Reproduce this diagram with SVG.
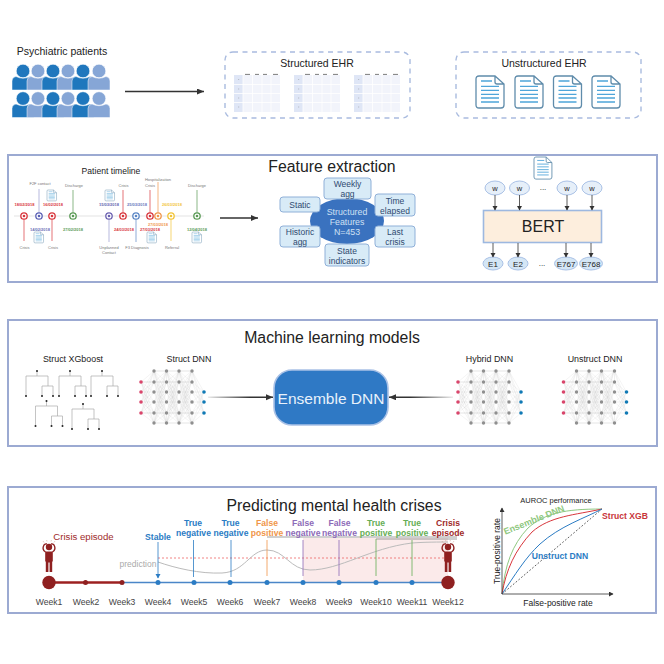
<svg xmlns="http://www.w3.org/2000/svg" width="664" height="664" viewBox="0 0 664 664">
<style>
text{font-family:"Liberation Sans",Arial,sans-serif;fill:#222;text-anchor:middle}
.panel{fill:#fff;stroke:#9caad2;stroke-width:2}
.dash{fill:#fff;stroke:#a9bbdf;stroke-width:1.4;stroke-dasharray:5 4.5}
.ln{fill:none;stroke:#333;stroke-width:1.5}
.thin{fill:none;stroke:#333;stroke-width:.8}
.t12{font-size:10.5px}.t9{font-size:8.5px;fill:#2f4a70}
.h{font-size:15.8px}
.lab{font-size:8.9px}
.d{font-size:4px;font-weight:bold}
.s{font-size:4px;fill:#777}
.wk{font-size:8.6px;fill:#444}
.o{font-size:8.6px;font-weight:bold}
.fb{fill:#d8ebf7;stroke:#8fb0d8;stroke-width:1}
.tr{fill:none;stroke:#aaa;stroke-width:.7}
.stem{stroke-width:.8;fill:none}
.m{fill:none;stroke:#aaa;stroke-width:.13}
</style>
<defs>
<marker id="ah" markerWidth="8" markerHeight="8" refX="7" refY="3" orient="auto" markerUnits="userSpaceOnUse"><path d="M0 0L7 3L0 6z" fill="#333"/></marker>
<marker id="ab" markerWidth="6" markerHeight="6" refX="4" refY="2.5" orient="auto" markerUnits="userSpaceOnUse"><path d="M0 0L4.5 2.5L0 5z" fill="#333"/></marker>
<marker id="abl" markerWidth="6" markerHeight="6" refX="4" refY="2.5" orient="auto" markerUnits="userSpaceOnUse"><path d="M0 0L4.5 2.5L0 5z" fill="#2b7cc4"/></marker>
<linearGradient id="gl" gradientUnits="userSpaceOnUse" x1="208" y1="0" x2="250" y2="0"><stop offset="0" stop-color="#333" stop-opacity=".1"/><stop offset="1" stop-color="#333"/></linearGradient>
<linearGradient id="gr" gradientUnits="userSpaceOnUse" x1="453" y1="0" x2="410" y2="0"><stop offset="0" stop-color="#333" stop-opacity=".1"/><stop offset="1" stop-color="#333"/></linearGradient>
<g id="person">
<circle cx="0" cy="-12" r="6.800" stroke="#fff" stroke-width=".6"/>
<path d="M-11 7V-2Q-11 -6 -7 -6.500Q0 -3 7 -6.500Q11 -6 11 -2V7z" stroke="#fff" stroke-width=".5"/>
</g>
<g id="rowp">
<use href="#person" x="23" fill="#1f77bd"/><use href="#person" x="38" fill="#86a6d6"/><use href="#person" x="53" fill="#1f77bd"/><use href="#person" x="68" fill="#86a6d6"/><use href="#person" x="83" fill="#1f77bd"/><use href="#person" x="99" fill="#86a6d6"/>
</g>
<g id="tbl">
<rect width="46" height="37" fill="#f2f4fb"/><rect width="9" height="37" fill="#dfe6f6"/>
<path d="M9 0V37M18.500 0V37M28 0V37M37 0V37M0 9.500H46M0 18.500H46M0 27.500H46" stroke="#fff" stroke-width=".8"/>
<path d="M11 -.6H16M21 -.6H25M29 -.6H33M39 -.6H44" stroke="#444" stroke-width=".7"/>
<path d="M4.500 4.500h.6M4.500 14h.6M4.500 23h.6M4.500 32h.6" stroke="#777" stroke-width=".7"/>
</g>
<g id="doc">
<path d="M3 0H19L28 8V29Q28 32 25 32H3Q0 32 0 29V3Q0 0 3 0zM19 0V6Q19 8 21 8H28" fill="#fff" stroke="#5f8cab" stroke-width="1.300"/>
<path d="M5 5H16M5 10.300H23M5 14.300H23M5 18.300H23M5 22H23M5 26H23" stroke="#4ea5d9" stroke-width="1.300" fill="none"/>
</g>
<g id="tree"><path class="tr" d="M0 0V5M-11 25V5H11V15M5 25V15H16V25"/><circle r="1" fill="#222"/><circle cx="-11" cy="25" r="1" fill="#222"/><circle cx="5" cy="25" r="1" fill="#222"/><circle cx="16" cy="25" r="1" fill="#222"/></g>
<path id="mesh" class="m" d="M0 0L12.500 0M0 0L12.500 11M0 0L12.500 21M0 0L12.500 31M0 0L12.500 42M0 0L12.500 52M0 11L12.500 0M0 11L12.500 11M0 11L12.500 21M0 11L12.500 31M0 11L12.500 42M0 11L12.500 52M0 21L12.500 0M0 21L12.500 11M0 21L12.500 21M0 21L12.500 31M0 21L12.500 42M0 21L12.500 52M0 31L12.500 0M0 31L12.500 11M0 31L12.500 21M0 31L12.500 31M0 31L12.500 42M0 31L12.500 52M0 42L12.500 0M0 42L12.500 11M0 42L12.500 21M0 42L12.500 31M0 42L12.500 42M0 42L12.500 52M0 52L12.500 0M0 52L12.500 11M0 52L12.500 21M0 52L12.500 31M0 52L12.500 42M0 52L12.500 52"/>
<g id="gcol" fill="#8f8f8f"><circle r="1.700"/><circle cy="11" r="1.700"/><circle cy="21" r="1.700"/><circle cy="31" r="1.700"/><circle cy="42" r="1.700"/><circle cy="52" r="1.700"/></g>
<g id="dnn">
<path class="m" d="M0 11L13 0M0 11L13 11M0 11L13 21M0 11L13 31M0 11L13 42M0 11L13 52M0 21L13 0M0 21L13 11M0 21L13 21M0 21L13 31M0 21L13 42M0 21L13 52M0 31L13 0M0 31L13 11M0 31L13 21M0 31L13 31M0 31L13 42M0 31L13 52M0 42L13 0M0 42L13 11M0 42L13 21M0 42L13 31M0 42L13 42M0 42L13 52"/>
<use href="#mesh" x="13"/><use href="#mesh" x="25.500"/><use href="#mesh" x="38"/>
<path class="m" d="M51 0L63 21M51 0L63 31M51 0L63 42M51 11L63 21M51 11L63 31M51 11L63 42M51 21L63 21M51 21L63 31M51 21L63 42M51 31L63 21M51 31L63 31M51 31L63 42M51 42L63 21M51 42L63 31M51 42L63 42M51 52L63 21M51 52L63 31M51 52L63 42"/>
<path d="M0 11H13M0 42H13M13 0H51M13 11H51M13 42H51M13 52H51M13 0V11M25.500 0V11M38 0V11M51 0V11M13 42V52M25.500 42V52M38 42V52M51 42V52" stroke="#d2d2d2" stroke-width=".35" fill="none"/>
<use href="#gcol" x="13"/><use href="#gcol" x="25.500"/><use href="#gcol" x="38"/><use href="#gcol" x="51"/>
<g fill="#d9456b"><circle cy="11" r="1.800"/><circle cy="21" r="1.800"/><circle cy="31" r="1.800"/><circle cy="42" r="1.800"/></g>
<g fill="#0f79b5"><circle cx="63" cy="21" r="1.800"/><circle cx="63" cy="31" r="1.800"/><circle cx="63" cy="42" r="1.800"/></g>
</g>
<g id="crisisman" fill="#8f2020">
<circle cy="-10.500" r="3.200"/>
<path d="M-3.500 -5.500Q-7.500 -8 -5 -12.500Q-3.500 -14 -2 -13.500M3.500 -5.500Q7.500 -8 5 -12.500Q3.500 -14 2 -13.500" fill="none" stroke="#8f2020" stroke-width="1.400"/>
<path d="M-3.800 -6H3.800V4H3.200V14.500H.6V5H-.6V14.500H-3.200V4H-3.800z"/>
<path d="M-5 -15l-1 -1.500M-2 -16l-.4 -1.500M2 -16l.4 -1.500M5 -15l1 -1.500" stroke="#c98" stroke-width=".5" fill="none"/>
</g>
</defs>
<rect width="664" height="664" fill="#fff"/>

<g id="patients">
<text class="t12" x="62" y="55">Psychiatric patients</text>
<use href="#rowp" y="83"/><use href="#rowp" y="110.500"/>
</g>
<g id="structured-ehr">
<rect class="dash" x="225" y="52" width="185" height="66" rx="8"/>
<text class="t12" x="317" y="67">Structured EHR</text>
<use href="#tbl" x="234" y="75"/><use href="#tbl" x="294" y="75"/><use href="#tbl" x="354" y="75"/>
</g>
<g id="unstructured-ehr">
<rect class="dash" x="456" y="52" width="185" height="66" rx="8"/>
<text class="t12" x="544" y="67">Unstructured EHR</text>
<use href="#doc" x="476" y="76"/><use href="#doc" x="515" y="76"/><use href="#doc" x="553.500" y="76"/><use href="#doc" x="592" y="76"/>
</g>

<g id="panel-features">
<rect class="panel" x="8" y="155" width="649" height="127"/>
<text class="h" x="332" y="171.500">Feature extraction</text>
</g>
<g id="patient-timeline">
<text x="111" y="174" font-size="8.600">Patient timeline</text>
<path d="M14 216H204" stroke="#e4e4e4" stroke-width="1.200"/>
<g fill="none" stroke-width=".7">
<path d="M24 216V241M52 216V241M123 216V190M150 216V190" stroke="#d8363c"/>
<path d="M39 216V189M109 216V242" stroke="#9a9cd0"/>
<path d="M73 216V190M197 216V190" stroke="#5a9a55"/>
<path d="M136 216V242" stroke="#5b86c5"/>
<path d="M158 216V182" stroke="#f0964a"/>
<path d="M171 216V241" stroke="#f2c437"/>
</g>
<g stroke-width="1.300" fill="#fff">
<circle cx="24" cy="216" r="3.200" stroke="#d8363c"/><circle cx="52" cy="216" r="3.200" stroke="#d8363c"/><circle cx="123" cy="216" r="3.200" stroke="#d8363c"/><circle cx="150" cy="216" r="3.200" stroke="#d8363c"/>
<circle cx="39" cy="216" r="3.200" stroke="#5a60b5"/><circle cx="109" cy="216" r="3.200" stroke="#6a60b0"/>
<circle cx="73" cy="216" r="3.200" stroke="#5a9a55"/><circle cx="197" cy="216" r="3.200" stroke="#5a9a55"/>
<circle cx="136" cy="216" r="3.200" stroke="#5b86c5"/><circle cx="158" cy="216" r="3.200" stroke="#f0964a"/><circle cx="171" cy="216" r="3.200" stroke="#f2c437"/>
</g>
<circle cx="24" cy="216" r="1.300" fill="#d8363c"/><circle cx="52" cy="216" r="1.300" fill="#d8363c"/><circle cx="123" cy="216" r="1.300" fill="#d8363c"/><circle cx="150" cy="216" r="1.300" fill="#d8363c"/>
<circle cx="39" cy="216" r="1.300" fill="#5a60b5"/><circle cx="109" cy="216" r="1.300" fill="#6a60b0"/>
<circle cx="73" cy="216" r="1.300" fill="#5a9a55"/><circle cx="197" cy="216" r="1.300" fill="#5a9a55"/>
<circle cx="136" cy="216" r="1.300" fill="#5b86c5"/><circle cx="158" cy="216" r="1.300" fill="#f0964a"/><circle cx="171" cy="216" r="1.300" fill="#f2c437"/>
<g transform="translate(47 190) scale(.34)"><use href="#doc"/></g>
<g transform="translate(34 232) scale(.34)"><use href="#doc"/></g>
<g transform="translate(105 190) scale(.34)"><use href="#doc"/></g>
<g transform="translate(147 232) scale(.34)"><use href="#doc"/></g>
<g transform="translate(192 232) scale(.34)"><use href="#doc"/></g>
<text class="s" x="40" y="184.500">F2F contact</text>
<text class="s" x="74" y="186.500">Discharge</text>
<text class="s" x="123.500" y="186.500">Crisis</text>
<text class="s" x="150" y="186.500">Crisis</text>
<text class="s" x="158" y="181">Hospitalization</text>
<text class="s" x="197" y="186.500">Discharge</text>
<text class="s" x="24.500" y="248.500">Crisis</text>
<text class="s" x="53" y="248.500">Crisis</text>
<text class="s" x="109" y="248.500">Unplanned</text>
<text class="s" x="109" y="253.500">Contact</text>
<text class="s" x="137" y="248.500">F3 Diagnosis</text>
<text class="s" x="172" y="248.500">Referral</text>
<text class="d" x="24.500" y="206" style="fill:#d8363c">18/02/2018</text>
<text class="d" x="53" y="206" style="fill:#d8363c">16/02/2018</text>
<text class="d" x="40" y="230.500" style="fill:#6a6eb8">14/02/2018</text>
<text class="d" x="73" y="231" style="fill:#5a9a55">27/02/2018</text>
<text class="d" x="109" y="206" style="fill:#5f63b0">15/03/2018</text>
<text class="d" x="124" y="230.500" style="fill:#d8363c">24/03/2018</text>
<text class="d" x="137" y="206" style="fill:#6a78bd">25/03/2018</text>
<text class="d" x="150" y="230.500" style="fill:#d8363c">27/03/2018</text>
<text class="d" x="158" y="225.500" style="fill:#f0964a">27/03/2018</text>
<text class="d" x="172" y="206" style="fill:#f2c437">26/03/2018</text>
<text class="d" x="197" y="231" style="fill:#5a9a55">12/04/2018</text>
</g>
<g id="structured-features">
<ellipse cx="347" cy="221" rx="37" ry="23" fill="#3a72bf"/>
<g id="feat-weekly"><rect class="fb" x="324" y="178" width="47" height="21" rx="3"/><text class="t9" x="347.500" y="187">Weekly</text><text class="t9" x="347.500" y="197">agg</text></g>
<g id="feat-static"><rect class="fb" x="280" y="197" width="40" height="15" rx="3"/><text class="t9" x="300" y="208">Static</text></g>
<g id="feat-time"><rect class="fb" x="375" y="194" width="40" height="22" rx="3"/><text class="t9" x="395" y="204">Time</text><text class="t9" x="395" y="214">elapsed</text></g>
<g id="feat-historic"><rect class="fb" x="280" y="226" width="40" height="21" rx="3"/><text class="t9" x="300" y="235">Historic</text><text class="t9" x="300" y="245">agg</text></g>
<g id="feat-last"><rect class="fb" x="375" y="226" width="40" height="21" rx="3"/><text class="t9" x="395" y="235">Last</text><text class="t9" x="395" y="245">crisis</text></g>
<g id="feat-state"><rect class="fb" x="325" y="244" width="44" height="22" rx="3"/><text class="t9" x="347" y="254">State</text><text class="t9" x="347" y="264">indicators</text></g>
<text x="347" y="215" font-size="8.800" style="fill:#cfe0f3">Structured</text><text x="347" y="225" font-size="8.800" style="fill:#cfe0f3">Features</text><text x="347" y="235" font-size="8.800" style="fill:#cfe0f3">N=453</text>
</g>
<g id="bert-block">
<g transform="translate(534 157) scale(.64 .69)"><use href="#doc"/></g>
<g id="w1"><ellipse cx="495" cy="188" rx="10" ry="7" fill="#e6eff9" stroke="#a9c1e6"/><text x="495" y="191" font-size="7.500">w</text></g>
<g id="w2"><ellipse cx="519.500" cy="188" rx="10" ry="7" fill="#e6eff9" stroke="#a9c1e6"/><text x="519.500" y="191" font-size="7.500">w</text></g>
<g id="w3"><ellipse cx="567" cy="188" rx="10" ry="7" fill="#e6eff9" stroke="#a9c1e6"/><text x="567" y="191" font-size="7.500">w</text></g>
<g id="w4"><ellipse cx="592" cy="188" rx="10" ry="7" fill="#e6eff9" stroke="#a9c1e6"/><text x="592" y="191" font-size="7.500">w</text></g>
<text x="543" y="190" font-size="8">...</text>
<g id="bert"><rect x="483.500" y="210.500" width="118" height="32" fill="#fdeedd" stroke="#9db8e0" stroke-width="1.600"/><text x="543" y="232" font-size="16">BERT</text></g>
<g id="e1"><ellipse cx="493" cy="263.500" rx="10" ry="6.500" fill="#d4e6f5" stroke="#a9c1e6"/><text x="493" y="266.500" font-size="8">E1</text></g>
<g id="e2"><ellipse cx="518" cy="263.500" rx="10" ry="6.500" fill="#d4e6f5" stroke="#a9c1e6"/><text x="518" y="266.500" font-size="8">E2</text></g>
<g id="e767"><ellipse cx="566" cy="263.500" rx="11.500" ry="6.500" fill="#d4e6f5" stroke="#a9c1e6"/><text x="566" y="266.500" font-size="8">E767</text></g>
<g id="e768"><ellipse cx="591" cy="263.500" rx="11.500" ry="6.500" fill="#d4e6f5" stroke="#a9c1e6"/><text x="591" y="266.500" font-size="8">E768</text></g>
<text x="542" y="265.500" font-size="8">...</text>
</g>

<g id="panel-models">
<rect class="panel" x="8" y="320" width="649" height="126"/>
<text class="h" x="332" y="342.500">Machine learning models</text>
</g>
<g id="xgboost">
<text class="lab" x="73" y="362">Struct XGboost</text>
<use href="#tree" x="37" y="371"/><use href="#tree" x="70" y="371"/><use href="#tree" x="102" y="371"/><use href="#tree" x="46.500" y="401"/><use href="#tree" x="83" y="404"/>
</g>
<g id="struct-dnn"><text class="lab" x="189" y="362">Struct DNN</text><use href="#dnn" x="141" y="371"/></g>
<g id="hybrid-dnn"><text class="lab" x="489.500" y="362">Hybrid DNN</text><use href="#dnn" x="458" y="371"/></g>
<g id="unstruct-dnn"><text class="lab" x="595" y="362">Unstruct DNN</text><use href="#dnn" x="563.500" y="371"/></g>
<g id="ensemble"><rect x="274" y="370" width="114" height="55" rx="18" fill="#2f79c5" stroke="#a9c1e6" stroke-width="1.600"/><text x="331" y="403.500" font-size="15.500" style="fill:#e8f1fb">Ensemble DNN</text></g>

<g id="panel-predict">
<rect class="panel" x="8" y="487" width="648" height="126"/>
<text class="h" x="334" y="510.500">Predicting mental health crises</text>
</g>
<g id="prediction-chart">
<rect x="303" y="538" width="145" height="44" fill="#fbeaea"/>
<path d="M267 537H457M376 539H457" stroke="#888" stroke-width=".8" fill="none"/>
<path d="M158 558H448" stroke="#e66" stroke-width=".8" stroke-dasharray="2 2" fill="none"/>
<path d="M158 562C175 568 200 574 222 573C245 572 250 550 267 550C285 550 290 570 310 570C340 570 370 548 412 543C425 542 440 542 448 542" fill="none" stroke="#bbb" stroke-width="1"/>
<text x="138" y="567" font-size="8.500" style="fill:#aaa">prediction</text>
<path class="stem" stroke="#2b7cc4" d="M193.500 540V577M231 540V577"/>
<path class="stem" stroke="#f0964a" d="M267 540V576"/>
<path class="stem" stroke="#8d6bb8" d="M303 540V576M339 540V576"/>
<path class="stem" stroke="#66ae56" d="M376 539V576M412 540V576"/>
<text class="o" x="158" y="540" style="fill:#2b7cc4">Stable</text>
<text class="o" x="193" y="526" style="fill:#2b7cc4">True</text><text class="o" x="193.500" y="536" style="fill:#2b7cc4">negative</text>
<text class="o" x="230.500" y="526" style="fill:#2b7cc4">True</text><text class="o" x="231" y="536" style="fill:#2b7cc4">negative</text>
<text class="o" x="267" y="526" style="fill:#f0964a">False</text><text class="o" x="267" y="536" style="fill:#f0964a">positive</text>
<text class="o" x="303" y="526" style="fill:#8d6bb8">False</text><text class="o" x="303" y="536" style="fill:#8d6bb8">negative</text>
<text class="o" x="339.500" y="526" style="fill:#8d6bb8">False</text><text class="o" x="339.500" y="536" style="fill:#8d6bb8">negative</text>
<text class="o" x="376" y="526" style="fill:#66ae56">True</text><text class="o" x="376" y="536" style="fill:#66ae56">positive</text>
<text class="o" x="412" y="526" style="fill:#66ae56">True</text><text class="o" x="412" y="536" style="fill:#66ae56">positive</text>
<text class="o" x="448" y="526" style="fill:#a02a2a">Crisis</text><text class="o" x="448" y="536" style="fill:#a02a2a">episode</text>
<text x="83.500" y="540" font-size="9.600" style="fill:#a02a2a">Crisis episode</text>
<use href="#crisisman" x="49" y="557.500"/><use href="#crisisman" x="448" y="557.500"/>
<path d="M122 582.500H449" stroke="#4a86c8" stroke-width="1.300" fill="none"/>
<path d="M49 582.500H122" stroke="#9c2020" stroke-width="2.400" fill="none"/>
<g fill="#8f2020"><circle cx="49" cy="582.500" r="6.700"/><circle cx="85.500" cy="582.500" r="2.500"/><circle cx="122" cy="582.500" r="2.500"/><circle cx="448" cy="582.500" r="6.700"/></g>
<g fill="#2b7cc4"><circle cx="158" cy="582.500" r="2.500"/><circle cx="194" cy="582.500" r="2.500"/><circle cx="230" cy="582.500" r="2.500"/><circle cx="267" cy="582.500" r="2.500"/><circle cx="303" cy="582.500" r="2.500"/><circle cx="339" cy="582.500" r="2.500"/><circle cx="376" cy="582.500" r="2.500"/><circle cx="412" cy="582.500" r="2.500"/></g>
<text class="wk" x="49" y="605">Week1</text><text class="wk" x="86" y="605">Week2</text><text class="wk" x="122" y="605">Week3</text><text class="wk" x="158" y="605">Week4</text><text class="wk" x="194" y="605">Week5</text><text class="wk" x="230" y="605">Week6</text><text class="wk" x="267" y="605">Week7</text><text class="wk" x="303" y="605">Week8</text><text class="wk" x="339" y="605">Week9</text><text class="wk" x="376" y="605">Week10</text><text class="wk" x="412" y="605">Week11</text><text class="wk" x="448" y="605">Week12</text>
</g>
<g id="auroc">
<text x="556" y="503" font-size="7.500">AUROC performance</text>
<path d="M502 594L602 509" stroke="#333" stroke-width=".8" stroke-dasharray="1.800 1.800" fill="none"/>
<path d="M502 594C505 565 512 545 528 528C545 513 565 509 602 509" fill="none" stroke="#8fc880" stroke-width="1"/>
<path d="M502 594C506 570 515 550 532 532C550 516 575 515 602 509" fill="none" stroke="#d8363c" stroke-width="1"/>
<path d="M502 594C515 575 525 558 540 544C560 526 585 518 602 509" fill="none" stroke="#2b7cc4" stroke-width="1"/>
<text x="534" y="523" font-size="9" font-weight="bold" transform="rotate(-22 534 520)" style="fill:#8fc880">Ensemble DNN</text>
<text x="625" y="518.500" font-size="8.600" font-weight="bold" style="fill:#c8353a">Struct XGB</text>
<text x="560" y="559" font-size="8.600" font-weight="bold" style="fill:#2b7cc4">Unstruct DNN</text>
<text font-size="8.500" transform="translate(500 551) rotate(-90)">True-positive rate</text>
<text x="558" y="606" font-size="8.500">False-positive rate</text>
</g>

<g id="connectors">
<path class="ln" d="M125 91.500H204" marker-end="url(#ah)"/>
<path class="ln" d="M220 218H258" marker-end="url(#ah)"/>
<path d="M495 195V210" class="thin" marker-end="url(#ab)"/><path d="M519.500 195V210" class="thin" marker-end="url(#ab)"/><path d="M567 195V210" class="thin" marker-end="url(#ab)"/><path d="M592 195V210" class="thin" marker-end="url(#ab)"/>
<path d="M493 243V257" class="thin" marker-end="url(#ab)"/><path d="M518 243V257" class="thin" marker-end="url(#ab)"/><path d="M566 243V257" class="thin" marker-end="url(#ab)"/><path d="M591 243V257" class="thin" marker-end="url(#ab)"/>
<path d="M208 397.300H273" fill="none" stroke="url(#gl)" stroke-width="1.500" marker-end="url(#ah)"/>
<path d="M453 397.300H389" fill="none" stroke="url(#gr)" stroke-width="1.500" marker-end="url(#ah)"/>
<path d="M158 542V578" fill="none" stroke="#2b7cc4" stroke-width=".8" marker-end="url(#abl)"/>
<path class="thin" d="M502 594V508" marker-end="url(#ab)"/>
<path class="thin" d="M502 594H613" marker-end="url(#ab)"/>
</g>
</svg>
